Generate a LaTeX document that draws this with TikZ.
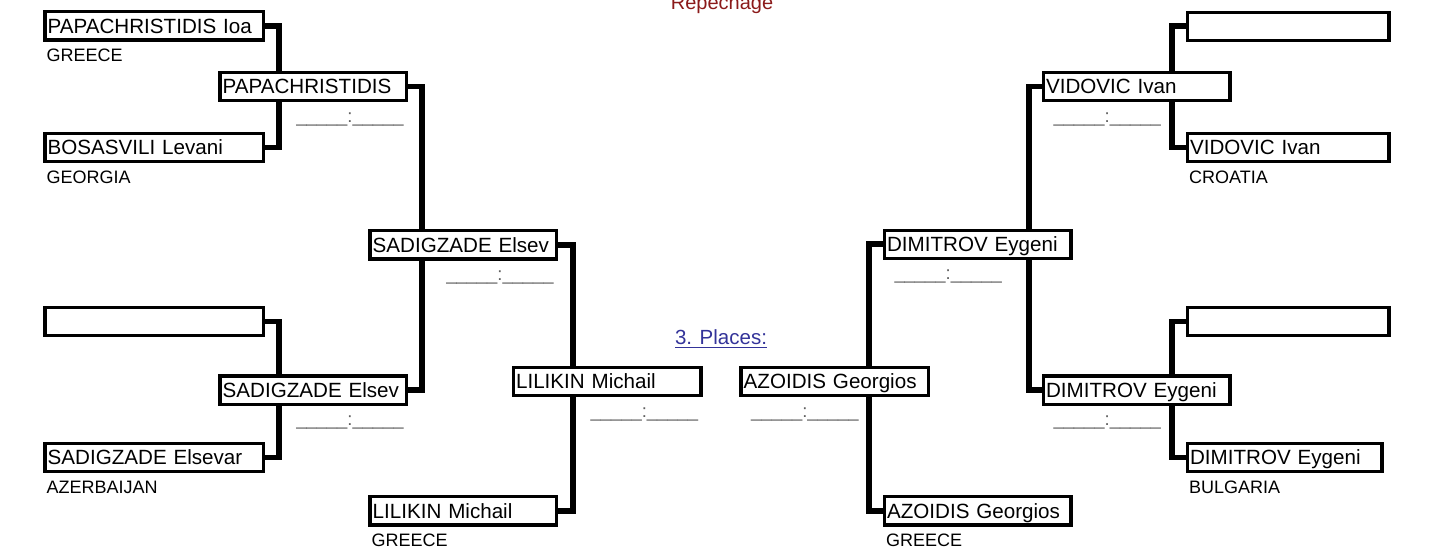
\documentclass[tikz,border=0pt]{standalone}
\usepackage{fontspec}
\setmainfont{Liberation Sans}
\usetikzlibrary{positioning,backgrounds}

\definecolor{titlered}{RGB}{139,26,26}
\definecolor{placeblue}{RGB}{51,51,153}
\definecolor{scoregray}{RGB}{95,95,95}

\begin{document}
\begin{tikzpicture}[x=0.5pt, y=-0.5pt,
  player/.style={draw, rectangle, line width=1.6pt, fill=white, anchor=north west,
    inner xsep=1.4pt, inner ysep=0pt, text width=#1, align=left,
    minimum height=14.2pt, text height=7.4pt, text depth=0pt,
    font=\fontsize{10.3}{12}\selectfont},
  player/.default=90.5pt,
  country/.style={inner sep=0pt, font=\fontsize{9}{11}\selectfont},
  score/.style={inner sep=0pt, text=scoregray, font=\fontsize{9.2}{11}\selectfont},
  bracket/.style={line width=2.9pt, line join=miter}]
\useasboundingbox (0,0) rectangle (1443,547);

% 标题
\node[inner sep=0pt, anchor=base, text=titlered, font=\fontsize{10}{12}\selectfont] (title) at (722,9.3) {Repechage};
\node[inner sep=0pt, anchor=base, text=placeblue, font=\fontsize{10.25}{12}\selectfont] (places) at (721,344) {\underline{3. Places:}};

% 左侧 第一轮
\node[player=106.5pt] (papa1) at (43.3,10) {PAPACHRISTIDIS Ioa};
\node[country, below right=3.5pt and 1.5pt of papa1.south west] (greece1) {GREECE};
\node[player=106.5pt] (bosa) at (43.3,131.7) {BOSASVILI Levani};
\node[country, below right=3.5pt and 1.5pt of bosa.south west] (georgia) {GEORGIA};
\node[player=106.5pt] (empty1) at (43.3,305.7) {};
\node[player=106.5pt] (sadig1) at (43.3,441.7) {SADIGZADE Elsevar};
\node[country, below right=3.5pt and 1.5pt of sadig1.south west] (azerbaijan) {AZERBAIJAN};

% 左侧 第二轮
\node[player] (papa2) at (218.3,70.7) {PAPACHRISTIDIS};
\node[score, below left=4.8pt and 2pt of papa2.south east] (scorepapa) {\_\_\_\_\_:\_\_\_\_\_};
\node[player] (sadig2) at (218.3,374.3) {SADIGZADE Elsev};
\node[score, below left=4.8pt and 2pt of sadig2.south east] (scoresadig2) {\_\_\_\_\_:\_\_\_\_\_};

% 左侧 第三轮
\node[player] (sadig3) at (368.3,229) {SADIGZADE Elsev};
\node[score, below left=4.8pt and 2pt of sadig3.south east] (scoresadig3) {\_\_\_\_\_:\_\_\_\_\_};
\node[player] (lili1) at (368.3,495) {LILIKIN Michail};
\node[country, below right=3.5pt and 1.5pt of lili1.south west] (greece2) {GREECE};

% 第三名
\node[player=91pt] (lili2) at (511.7,365.7) {LILIKIN Michail};
\node[score, below left=4.8pt and 2pt of lili2.south east] (scorelili) {\_\_\_\_\_:\_\_\_\_\_};
\node[player=91pt] (azo2) at (739.3,365.7) {AZOIDIS Georgios};
\node[score, below right=4.8pt and 5.7pt of azo2.south west] (scoreazo) {\_\_\_\_\_:\_\_\_\_\_};

% 右侧 第三轮
\node[player] (dimi3) at (882.7,228.5) {DIMITROV Eygeni};
\node[score, below right=4.8pt and 5.7pt of dimi3.south west] (scoredimi3) {\_\_\_\_\_:\_\_\_\_\_};
\node[player] (azo1) at (882.7,495) {AZOIDIS Georgios};
\node[country, below right=3.5pt and 1.5pt of azo1.south west] (greece3) {GREECE};

% 右侧 第二轮
\node[player] (vido2) at (1041.7,70.7) {VIDOVIC Ivan};
\node[score, below right=4.8pt and 5.7pt of vido2.south west] (scorevido) {\_\_\_\_\_:\_\_\_\_\_};
\node[player] (dimi2) at (1041.7,374.3) {DIMITROV Eygeni};
\node[score, below right=4.8pt and 5.7pt of dimi2.south west] (scoredimi2) {\_\_\_\_\_:\_\_\_\_\_};

% 右侧 第一轮
\node[player=98pt] (empty2) at (1185.7,10.5) {};
\node[player=98pt] (vido1) at (1185.7,131.7) {VIDOVIC Ivan};
\node[country, below right=3.5pt and 1.5pt of vido1.south west] (croatia) {CROATIA};
\node[player=98pt] (empty3) at (1185.7,305.7) {};
\node[player=94.5pt] (dimi1) at (1185.7,441.7) {DIMITROV Eygeni};
\node[country, below right=3.5pt and 1.5pt of dimi1.south west] (bulgaria) {BULGARIA};

% 连线
\begin{pgfonlayer}{background}
\draw[bracket] (papa1.east) -- ++(13.5,0) |- (bosa.east);
\draw[bracket] (empty1.east) -- ++(13.5,0) |- (sadig1.east);
\draw[bracket] (papa2.east) -- ++(13.5,0) |- (sadig2.east);
\draw[bracket] (sadig3.east) -- ++(14.5,0) |- (lili1.east);
\draw[bracket] (dimi3.west) -- ++(-13.5,0) |- (azo1.west);
\draw[bracket] (vido2.west) -- ++(-13,0) |- (dimi2.west);
\draw[bracket] (empty2.west) -- ++(-13.5,0) |- (vido1.west);
\draw[bracket] (empty3.west) -- ++(-13.5,0) |- (dimi1.west);
\end{pgfonlayer}
\end{tikzpicture}
\end{document}
